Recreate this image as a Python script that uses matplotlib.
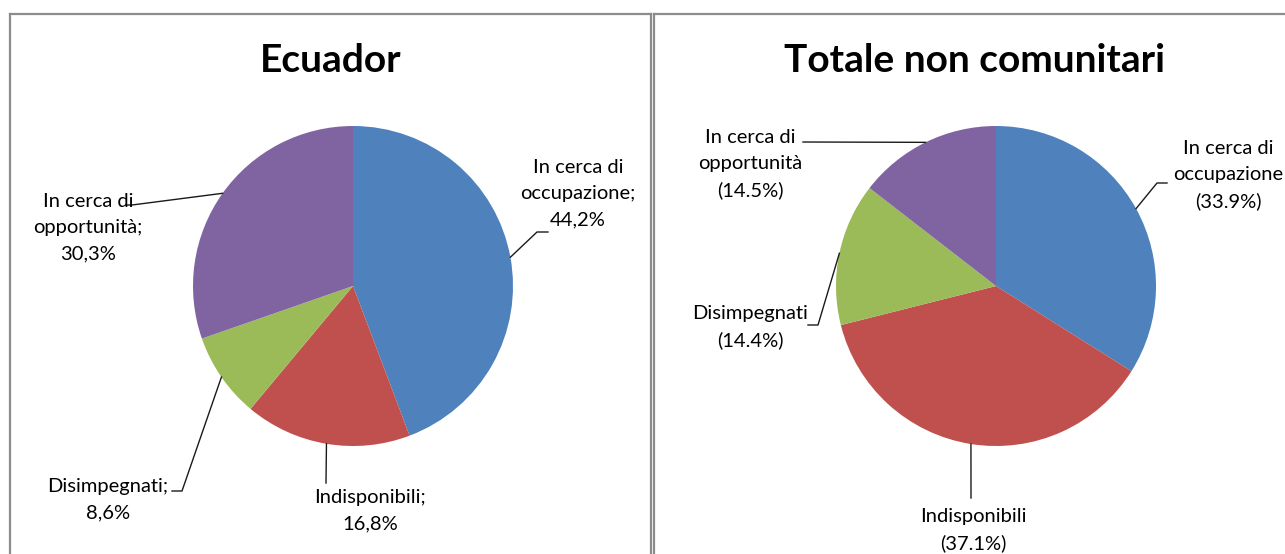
import numpy as np
import matplotlib.pyplot as plt
from matplotlib.lines import Line2D

# data
categories = ["In cerca di occupazione", "Indisponibili", "Disimpegnati", "In cerca di opportunità"]
ecuador = [44.2, 16.8, 8.6, 30.3]
non_ue = [33.9, 37.1, 14.4, 14.5]
titles = ["Ecuador", "Totale non comunitari"]

ecuador_labels = ["In cerca di\noccupazione;\n44,2%", "Indisponibili;\n16,8%",
                  "Disimpegnati;\n8,6%", "In cerca di\nopportunità;\n30,3%"]
non_ue_labels = ["In cerca di\noccupazione\n(33.9%)", "Indisponibili\n(37.1%)",
                 "Disimpegnati\n(14.4%)", "In cerca di\nopportunità\n(14.5%)"]

colors = ["#4F81BD", "#C0504D", "#9BBB59", "#8064A2"]

W, H = 1285, 554
plt.rcParams['font.family'] = ['Lato', 'DejaVu Sans']

fig = plt.figure(figsize=(W / 100, H / 100), dpi=100)
ax = fig.add_axes([0, 0, 1, 1])


def Y(y):
    # pixel row (top down) -> data y
    return H - y


# panel borders
border = "#8c8c8c"
for xs, ys in [([10, 10], [H, 14]), ([10, 651], [14, 14]), ([651, 651], [14, H]),
               ([654, 654], [14, H]), ([654, W], [14, 14])]:
    ax.add_line(Line2D(xs, [Y(v) for v in ys], color=border, lw=1.6))

radius = 160
panels = [
    dict(values=ecuador, labels=ecuador_labels, title=titles[0], cx=353, title_x=331,
         text_pos=[(578, 194), (370, 511), (108, 500), (88, 228)],
         elbows=[[(537, 232), (548, 232)], [(326, 483)], [(182, 491), (172, 491)], [(132, 205), (126, 205)]]),
    dict(values=non_ue, labels=non_ue_labels, title=titles[1], cx=996, title_x=974,
         text_pos=[(1228, 175), (973, 530), (750, 327), (750, 164)],
         elbows=[[(1157, 183), (1167, 183)], [(971, 498)], [(818, 325), (808, 325)], [(803, 142)]]),
]

cy = 286
for p in panels:
    ax.pie(p["values"], colors=colors, startangle=90, counterclock=False,
           center=(p["cx"], Y(cy)), radius=radius, frame=True,
           wedgeprops=dict(linewidth=0))
    ax.text(p["title_x"], Y(60), p["title"], ha="center", va="center",
            fontsize=28, fontweight="bold", color="black")

    total = sum(p["values"])
    cum = np.cumsum([0] + list(p["values"]))
    for i, v in enumerate(p["values"]):
        mid = 90 - (cum[i] + v / 2) / total * 360
        ex = p["cx"] + radius * np.cos(np.radians(mid))
        ey = Y(cy) + radius * np.sin(np.radians(mid))
        xs = [ex] + [pt[0] for pt in p["elbows"][i]]
        ys = [ey] + [Y(pt[1]) for pt in p["elbows"][i]]
        ax.add_line(Line2D(xs, ys, color="#1a1a1a", lw=1.0))
        tx, ty = p["text_pos"][i]
        ax.text(tx, Y(ty), p["labels"][i], ha="center", va="center",
                fontsize=14.5, color="black", linespacing=1.65)

ax.set_xlim(0, W)
ax.set_ylim(0, H)
ax.set_aspect("auto")
ax.axis("off")

fig.savefig("out.png", dpi=100)
